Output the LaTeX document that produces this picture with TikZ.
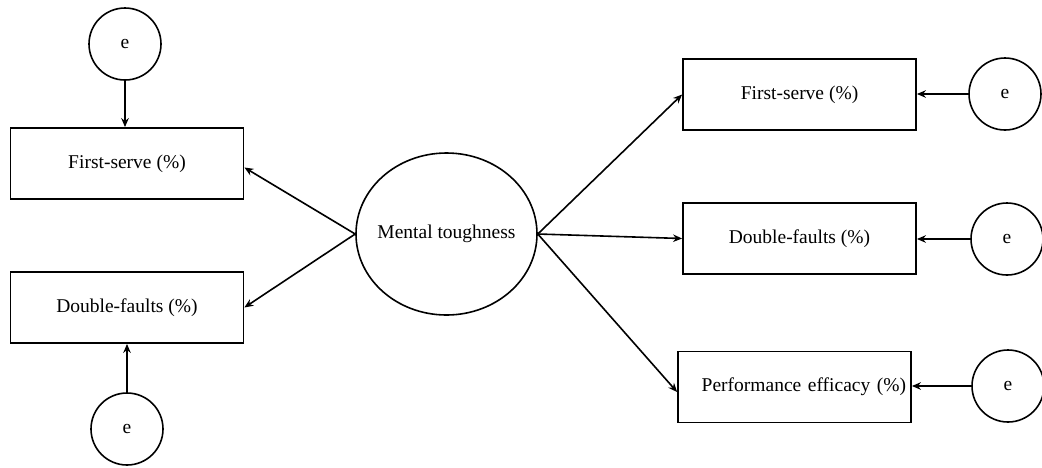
\documentclass[tikz,border=0pt]{standalone}
\usepackage{fontspec}
\setmainfont{Liberation Serif}
\usetikzlibrary{arrows.meta,shapes.geometric}
\tikzset{
  lbl/.style={font=\fontsize{19.5}{23}\selectfont},
  box/.style={draw, line width=1.8pt, rectangle, minimum width=233pt, minimum height=71pt, inner sep=0pt, lbl},
  err/.style={draw, line width=1.6pt, circle, minimum size=72pt, inner sep=0pt, lbl},
  latent/.style={draw, line width=1.6pt, ellipse, minimum width=181pt, minimum height=162pt, inner sep=0pt, lbl},
  arr/.style={line width=1.6pt, -{Stealth[length=9pt,width=7.5pt]}}
}
\begin{document}
\begin{tikzpicture}[x=1pt,y=-1pt]
\useasboundingbox (0,0) rectangle (1042,467);
% latent
\node[latent] (mt) at (446.5,234) {\makebox[0pt]{Mental toughness}};
% left boxes
\node[box] (l1) at (127,163.5) {First-serve (\%)};
\node[box] (l2) at (127,307.5) {Double-faults (\%)};
\node[err] (le1) at (125,44) {e};
\node[err] (le2) at (127,429) {e};
% right boxes
\node[box] (r1) at (799.5,94.5) {First-serve (\%)};
\node[box] (r2) at (799.5,238.5) {Double-faults (\%)};
\node[box, text width=223pt, align=right, inner xsep=5pt] (r3) at (794.5,387) {Performance efficacy (\%)};
\node[err] (re1) at (1005,94) {e};
\node[err] (re2) at (1007,239) {e};
\node[err] (re3) at (1008,386) {e};
% connectors
\draw[arr] (le1.south) -- (le1.south |- l1.north);
\draw[arr] (le2.north) -- (le2.north |- l2.south);
\draw[arr] (mt.west) -- ([yshift=-4pt]l1.east);
\draw[arr] (mt.west) -- (l2.east);
\draw[arr] (mt.east) -- (r1.west);
\draw[arr] (mt.east) -- (r2.west);
\draw[arr] (mt.east) -- ([yshift=-5pt]r3.west);
\draw[arr] (re1.west) -- (re1.west -| r1.east);
\draw[arr] (re2.west) -- (re2.west -| r2.east);
\draw[arr] (re3.west) -- (re3.west -| r3.east);
\end{tikzpicture}
\end{document}
